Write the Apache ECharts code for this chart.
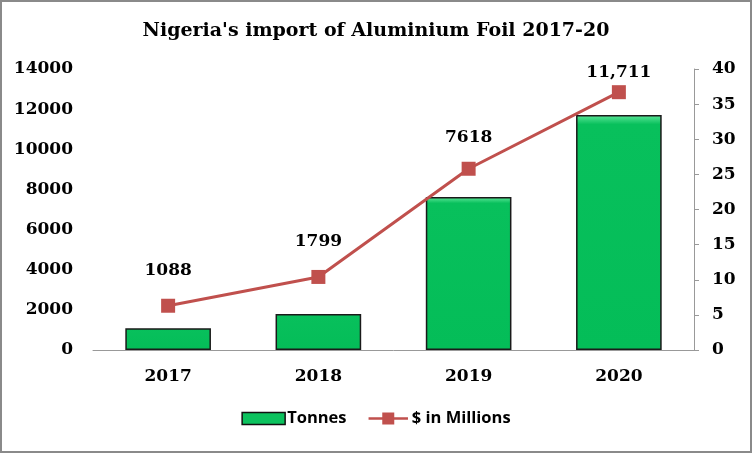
<!DOCTYPE html>
<html><head><meta charset="utf-8">
<script src="https://cdn.jsdelivr.net/npm/echarts@6/dist/echarts.min.js"></script>
<style>html,body{margin:0;padding:0;background:#fff}#c{width:752px;height:453px}</style>
</head><body><div id="c"></div>
<script>
const categories = ['2017', '2018', '2019', '2020'];
const tonnes = [1088, 1799, 7618, 11711];
const dollars = [6.3, 10.4, 25.8, 36.7];
const tonneLabels = ['1088', '1799', '7618', '11,711'];
const labelOffsets = [-15, -15, -11, 1];

const serif = '"DejaVu Serif", serif';
const sans = '"Open Sans", Lato, sans-serif';
const chart = echarts.init(document.getElementById('c'));
chart.setOption({
  animation: false,
  title: {
    text: "Nigeria's import of Aluminium Foil 2017-20",
    left: 'center', top: 17,
    textStyle: { fontFamily: serif, fontWeight: 'bold', fontSize: 19, color: '#000' }
  },
  legend: {
    bottom: 21, left: 'center', itemGap: 22, itemWidth: 43, itemHeight: 12,
    textStyle: { fontFamily: sans, fontWeight: 'bold', fontSize: 16.5, color: '#000', padding: [0, 0, 0, -3] },
    data: [
      { name: 'Tonnes', icon: 'rect', itemStyle: { color: '#0cc25e', borderColor: '#111', borderWidth: 1.5 } },
      { name: '$ in Millions',
        icon: 'path://M0,5.5 H16 V0 H30 V5.5 H46 V8.5 H30 V14 H16 V8.5 H0 Z',
        itemStyle: { color: '#c0504d', borderWidth: 0 } }
    ]
  },
  grid: { left: 93, right: 58, top: 69, bottom: 103, containLabel: false },
  xAxis: {
    type: 'category', data: categories,
    axisLine: { lineStyle: { color: '#999' } },
    axisTick: { show: false },
    axisLabel: { fontFamily: serif, fontWeight: 'bold', fontSize: 17, color: '#000', margin: 18 }
  },
  yAxis: [
    { type: 'value', min: 0, max: 14000, interval: 2000, splitLine: { show: false },
      axisLine: { show: false }, axisTick: { show: false },
      axisLabel: { fontFamily: serif, fontWeight: 'bold', fontSize: 17, color: '#000', margin: 20,
        formatter: v => String(v) } },
    { type: 'value', min: 0, max: 40, interval: 5, splitLine: { show: false },
      position: 'right',
      axisLine: { show: true, lineStyle: { color: '#999' } },
      axisTick: { show: true, inside: false, length: 5, lineStyle: { color: '#999' } },
      axisLabel: { fontFamily: serif, fontWeight: 'bold', fontSize: 17, color: '#000', margin: 18 } }
  ],
  series: [
    { name: 'Tonnes', type: 'bar', data: tonnes, barWidth: '57%', yAxisIndex: 0,
      itemStyle: {
        color: new echarts.graphic.LinearGradient(0, 0, 0, 1, [
          { offset: 0, color: '#5fe79a' }, { offset: 0.04, color: '#08c05c' }, { offset: 1, color: '#04bd58' }
        ]),
        borderColor: '#1a1a1a', borderWidth: 1.5
      } },
    { name: '$ in Millions', type: 'line', yAxisIndex: 1,
      data: dollars.map((v, i) => ({ value: v, label: { offset: [0, labelOffsets[i]] } })),
      symbol: 'rect', symbolSize: 14,
      lineStyle: { color: '#c0504d', width: 3 },
      itemStyle: { color: '#c0504d' },
      label: { show: true, position: 'top', formatter: p => tonneLabels[p.dataIndex],
        fontFamily: serif, fontWeight: 'bold', fontSize: 17, color: '#000' } }
  ],
  graphic: [{ type: 'rect', shape: { x: 1, y: 1, width: 750, height: 451 },
    style: { fill: 'none', stroke: '#8a8a8a', lineWidth: 2 }, silent: true, z: 100 }]
});
</script></body></html>
